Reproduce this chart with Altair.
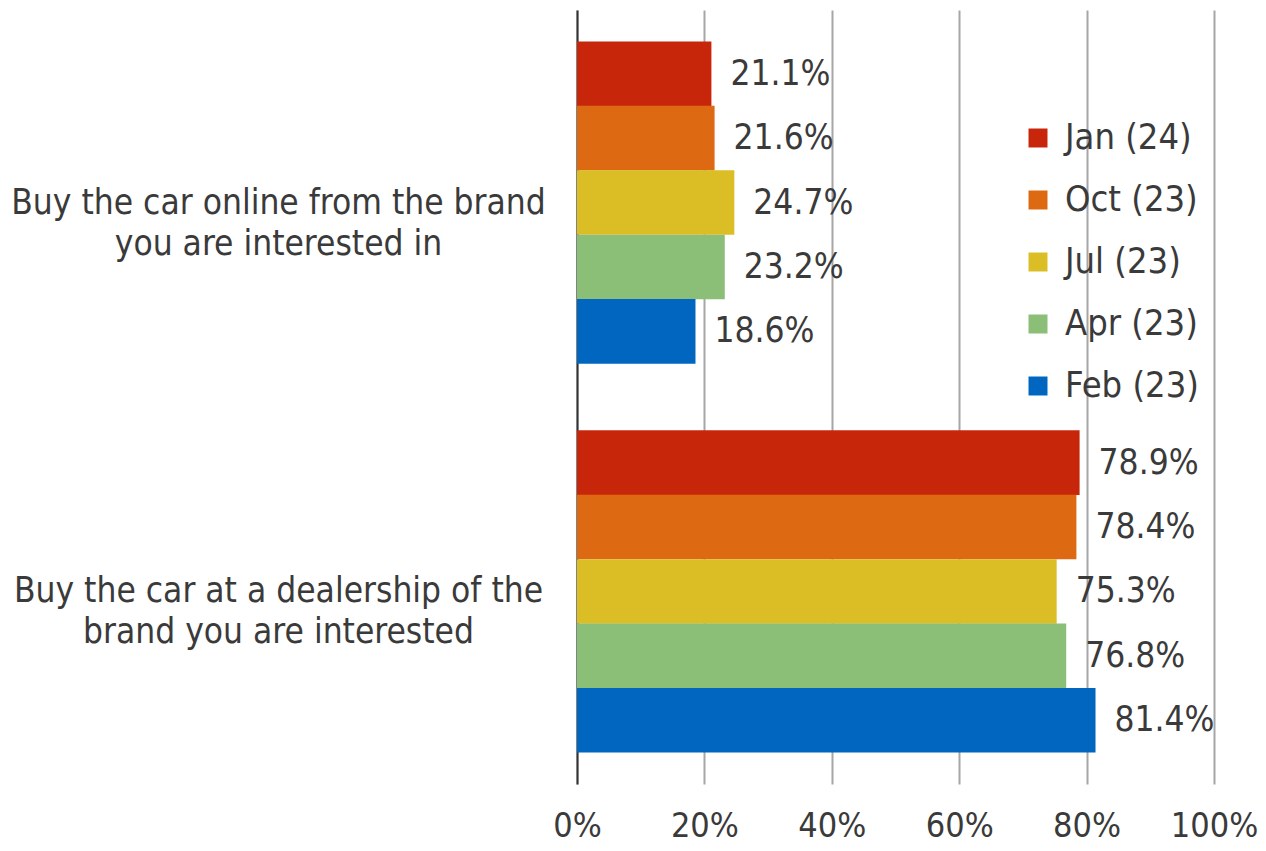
import altair as alt
import pandas as pd

categories = [
    "Buy the car online from the brand|you are interested in",
    "Buy the car at a dealership of the|brand you are interested",
]
series = ["Jan (24)", "Oct (23)", "Jul (23)", "Apr (23)", "Feb (23)"]
colors = ["#C8260A", "#DD6A12", "#DBBE26", "#8BBF78", "#0066C0"]
online = [21.1, 21.6, 24.7, 23.2, 18.6]
dealer = [78.9, 78.4, 75.3, 76.8, 81.4]
x_ticks = [0, 20, 40, 60, 80, 100]

rows = []
for vals, cat in zip([online, dealer], categories):
    for i, (s, v) in enumerate(zip(series, vals)):
        rows.append({"cat": cat, "series": s, "order": i, "value": v, "label": f"{v:.1f}%"})
df = pd.DataFrame(rows)

FONT = "DejaVu Sans Condensed, DejaVu Sans"
TXT = "#3a3a3a"

y_enc = alt.Y(
    "cat:N",
    sort=categories,
    title=None,
    scale=alt.Scale(paddingInner=0.172, paddingOuter=0.081),
    axis=alt.Axis(
        labelExpr="split(datum.label, '|')",
        labelAlign="center",
        labelBaseline="middle",
        labelPadding=299,
        labelFontSize=35,
        labelLineHeight=41,
        labelLimit=1000,
        labelColor=TXT,
        labelFont=FONT,
        ticks=False,
        domain=True,
        domainColor="#333333",
        domainWidth=2,
        grid=False,
    ),
)
yoff = alt.YOffset("series:N", sort=series, scale=alt.Scale(paddingInner=0, paddingOuter=0))
x_enc = alt.X(
    "value:Q",
    title=None,
    scale=alt.Scale(domain=[0, 100], nice=False),
    axis=alt.Axis(
        values=x_ticks,
        labelExpr="datum.value + '%'",
        labelFontSize=34,
        labelColor=TXT,
        labelFont=FONT,
        labelPadding=25,
        labelFlush=False,
        labelOverlap=False,
        ticks=False,
        domain=False,
        grid=True,
        gridColor="#A6A6A6",
        gridWidth=2,
    ),
)

bars = alt.Chart(df).mark_bar(size=64.6).encode(
    y=y_enc,
    yOffset=yoff,
    x=x_enc,
    color=alt.Color(
        "series:N",
        sort=series,
        scale=alt.Scale(domain=series, range=colors),
        legend=alt.Legend(
            title=None,
            orient="none",
            legendX=443,
            legendY=110,
            symbolType="square",
            symbolSize=361,
            symbolStrokeWidth=0,
            labelFontSize=36,
            labelFont=FONT,
            labelColor=TXT,
            labelOffset=9,
            rowPadding=26,
        ),
    ),
)

labels = alt.Chart(df).mark_text(
    align="left", baseline="middle", dx=19, fontSize=35, font=FONT, color=TXT
).encode(
    y=alt.Y("cat:N", sort=categories),
    yOffset=alt.YOffset("series:N", sort=series),
    x="value:Q",
    text="label:N",
)

chart = (
    alt.layer(bars, labels)
    .properties(width=637, height=774, padding={"left": 2, "top": 2, "right": 0, "bottom": 0})
    .configure_view(stroke=None)
)
chart.save("out.html", embed_options={"renderer": "svg", "actions": False})
